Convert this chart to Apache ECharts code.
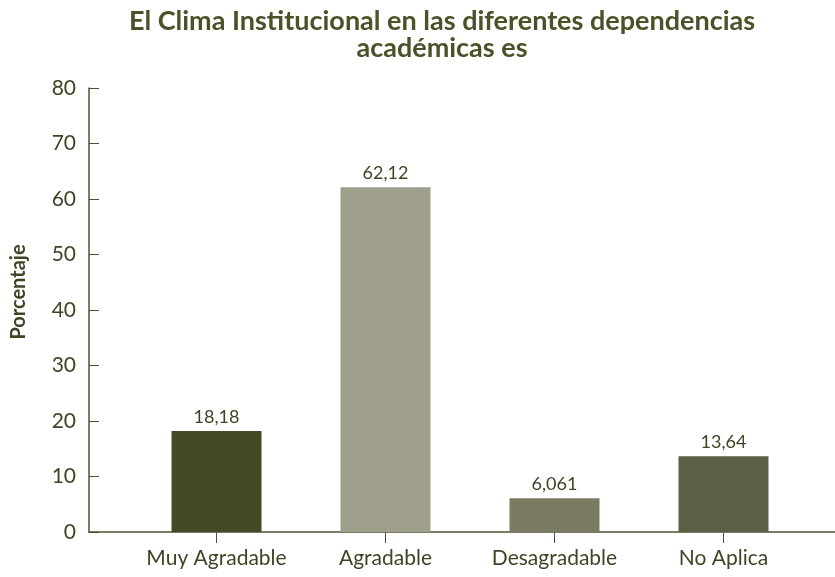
<!DOCTYPE html>
<html>
<head>
<meta charset="utf-8">
<script src="https://cdn.jsdelivr.net/npm/echarts@6/dist/echarts.min.js"></script>
<style>
html, body { margin: 0; padding: 0; background: #fff; }
#chart { width: 835px; height: 577px; }
</style>
</head>
<body>
<div id="chart"></div>
<script>
// datos del gráfico
const categories = ['Muy Agradable', 'Agradable', 'Desagradable', 'No Aplica'];
const values = [18.18, 62.12, 6.061, 13.64];
const valueLabels = ['18,18', '62,12', '6,061', '13,64'];
const barColors = ['#434a27', '#a09f8c', '#7a7b62', '#5c5f43'];
const yMin = 0, yMax = 80, yStep = 10;

const axisColor = '#4d5330';
const textColor = '#3e4424';
const fontFam = 'Lato, "Open Sans", sans-serif';

const chart = echarts.init(document.getElementById('chart'));
const option = {
	animation: false,
	title: {
		text: 'El Clima Institucional en las diferentes dependencias\nacadémicas es',
		left: 437,
		textAlign: 'center',
		top: 3,
		textStyle: { color: '#4a5228', fontSize: 27, fontWeight: 'bold', fontFamily: fontFam, lineHeight: 27 }
	},
	grid: [
		// grid de las barras
		{ left: 132, width: 676, top: 88, bottom: 45 },
		// grid del eje Y y de la línea base
		{ left: 89, right: 0, top: 88, bottom: 45 }
	],
	xAxis: [
		{
			type: 'category',
			gridIndex: 0,
			data: categories,
			boundaryGap: true,
			axisLine: { show: false },
			axisTick: { show: true, alignWithLabel: true, length: 9, inside: false },
			axisLabel: { interval: 0, color: textColor, fontSize: 21, fontFamily: fontFam, margin: 16 }
		},
		{
			type: 'value',
			gridIndex: 1,
			min: 0, max: 1,
			axisLine: { show: true, lineStyle: { color: axisColor, width: 1.5 } },
			axisTick: { show: false },
			axisLabel: { show: false },
			splitLine: { show: false }
		},
		{
			// marcas de las categorías
			type: 'category',
			gridIndex: 0,
			position: 'bottom',
			offset: 3,
			data: categories,
			axisLine: { show: true, lineStyle: { color: axisColor, opacity: 0 } },
			axisTick: { show: true, interval: 0, alignWithLabel: true, length: 8, lineStyle: { color: axisColor, width: 1 } },
			axisLabel: { show: false },
			splitLine: { show: false }
		}
	],
	yAxis: [
		{
			type: 'value',
			gridIndex: 0,
			min: yMin, max: yMax, interval: yStep,
			show: false
		},
		{
			type: 'value',
			gridIndex: 1,
			min: yMin, max: yMax, interval: yStep,
			name: 'Porcentaje',
			nameLocation: 'middle',
			nameGap: 60,
			nameTextStyle: { color: textColor, fontSize: 20, fontWeight: 'bold', fontFamily: fontFam, padding: [0, 0, 0, 36] },
			axisLine: { show: true, lineStyle: { color: axisColor, width: 1.5 } },
			axisTick: { show: true, inside: true, length: 10, lineStyle: { color: axisColor } },
			axisLabel: { color: textColor, fontSize: 21, fontFamily: fontFam, margin: 13 },
			splitLine: { show: false }
		}
	],
	series: [
		{
			type: 'bar',
			xAxisIndex: 0,
			yAxisIndex: 0,
			barWidth: 90,
			data: values.map((v, i) => ({ value: v, itemStyle: { color: barColors[i] } })),
			label: {
				show: true,
				position: 'top',
				distance: 5,
				color: textColor,
				fontSize: 18,
				fontFamily: fontFam,
				formatter: p => valueLabels[p.dataIndex]
			}
		}
	]
};
chart.setOption(option);
</script>
</body>
</html>
